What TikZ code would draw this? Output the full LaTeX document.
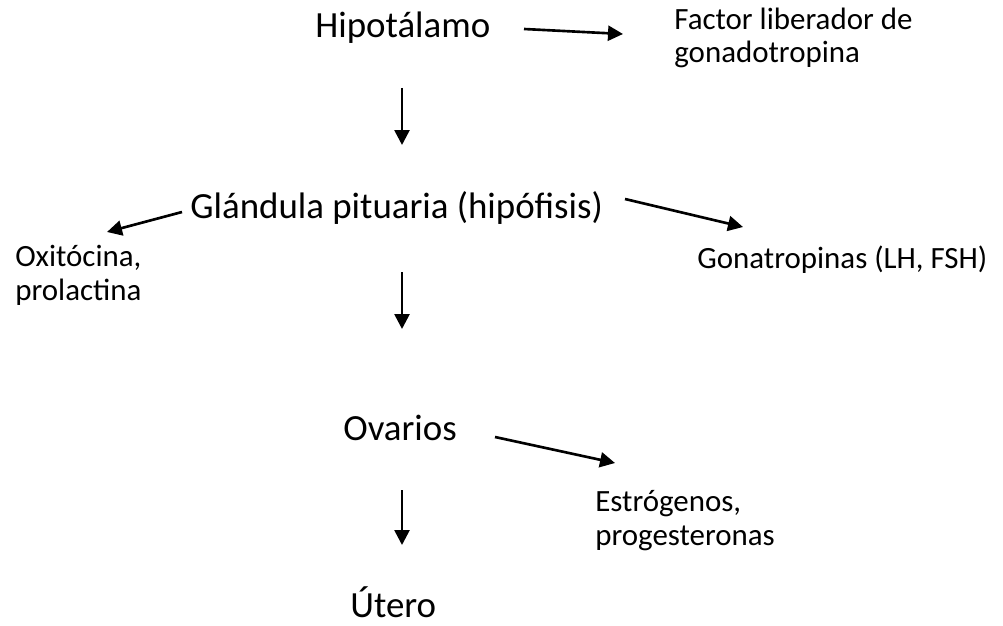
\documentclass[tikz,border=0pt]{standalone}
\usepackage{fontspec}
\setmainfont{Carlito}
\usetikzlibrary{arrows.meta}

\tikzset{
  grande/.style={anchor=base west, inner sep=0pt, font=\fontsize{21}{25}\selectfont},
  chico/.style={anchor=base west, inner sep=0pt, align=left, font=\fontsize{17.6}{19}\selectfont},
  flecha/.style={-{Triangle[length=0.3cm,width=0.3cm]}, line width=1.5pt}
}

\begin{document}
\begin{tikzpicture}[x=0.02cm,y=-0.02cm]
\useasboundingbox (0,0) rectangle (1003,625);

% textos (los de dos lineas van por la base de la ultima)
\node[grande] (hipotalamo) at (315,38) {Hipotálamo};
\node[chico] (factor) at (674,63) {Factor liberador de\\gonadotropina};
\node[grande] (glandula) at (190,218) {Glándula pituaria (hipófisis)};
\node[chico] (oxitocina) at (15,300) {Oxitócina,\\prolactina};
\node[chico] (gonatropinas) at (697,268) {Gonatropinas (LH, FSH)};
\node[grande] (ovarios) at (343,440) {Ovarios};
\node[chico] (estrogenos) at (595,545) {Estrógenos,\\progesteronas};
\node[grande] (utero) at (350,617) {Útero};

% extremos de las flechas
\coordinate (hipE) at (524,29);
\coordinate (facW) at (623,34);
\coordinate (hipS) at (402,88);
\coordinate (glaN) at (402,145);
\coordinate (glaW) at (182,212);
\coordinate (oxiN) at (107,232);
\coordinate (glaE) at (625,199);
\coordinate (gonN) at (743,227);
\coordinate (glaS) at (402,272);
\coordinate (ovaN) at (402,329);
\coordinate (ovaE) at (495,437);
\coordinate (estW) at (615,463);
\coordinate (ovaS) at (402,490);
\coordinate (uteN) at (402,545);

% flechas
\draw[flecha] (hipE) -- (facW);
\draw[flecha] (hipS) -- (glaN);
\draw[flecha] (glaW) -- (oxiN);
\draw[flecha] (glaE) -- (gonN);
\draw[flecha] (glaS) -- (ovaN);
\draw[flecha] (ovaE) -- (estW);
\draw[flecha] (ovaS) -- (uteN);
\end{tikzpicture}
\end{document}
